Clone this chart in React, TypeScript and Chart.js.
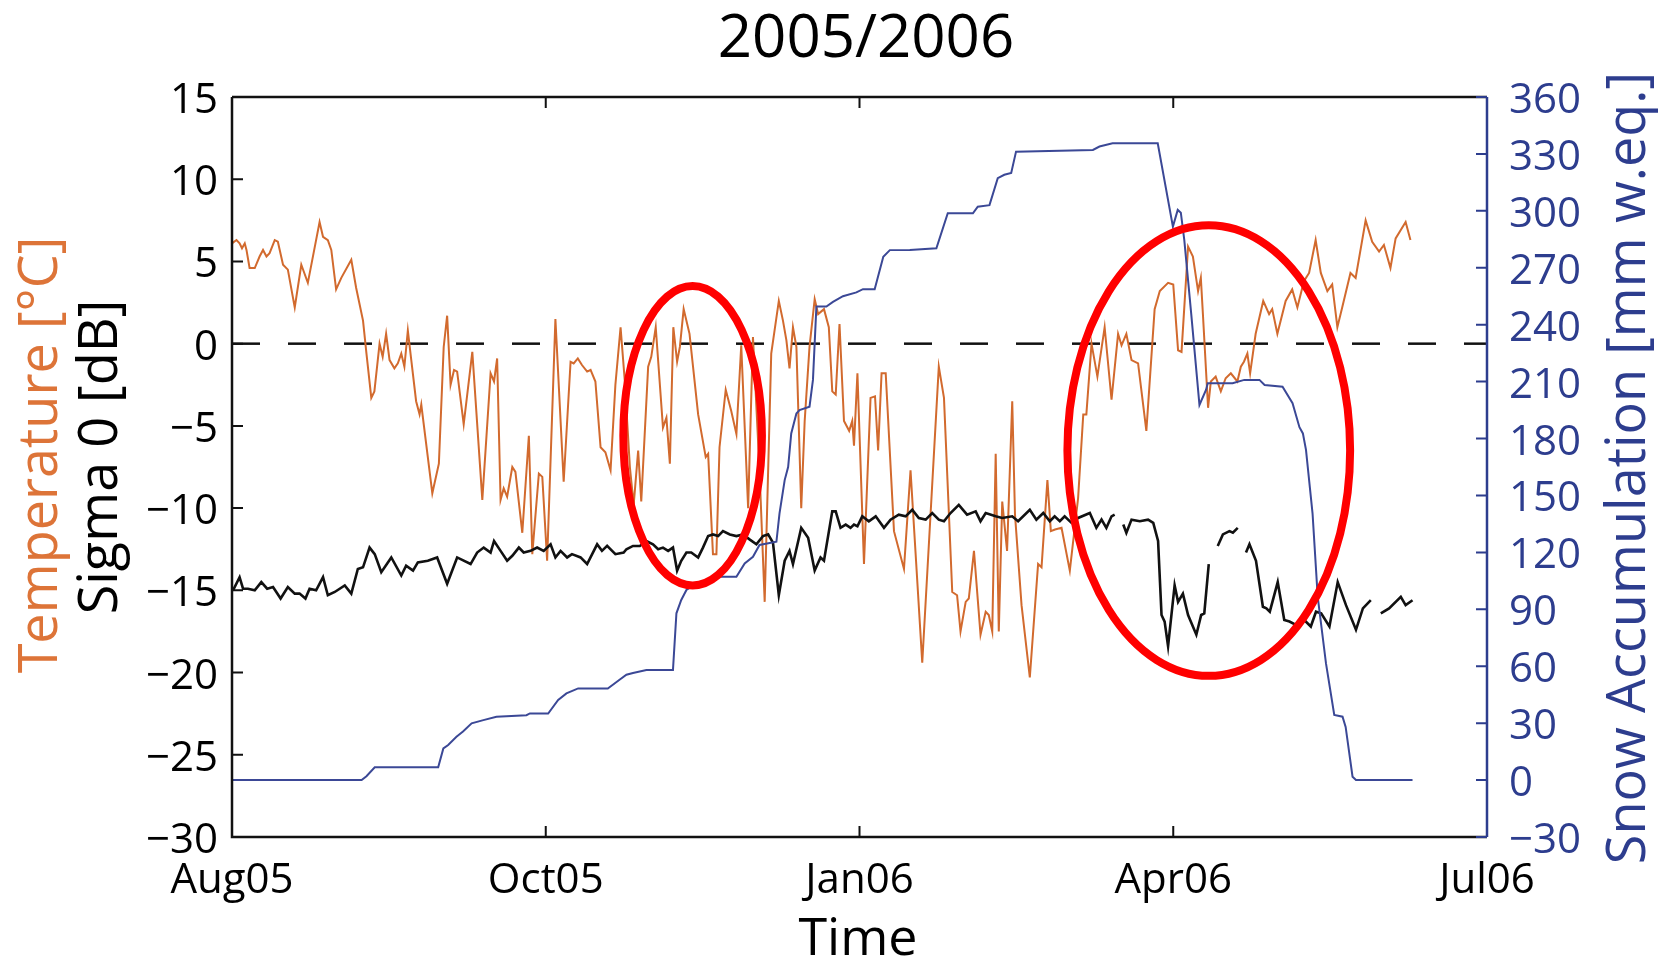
import React, { useEffect, useRef } from "react";
import { Chart, registerables } from "chart.js";

Chart.register(...registerables);

// ---------- data ----------
const chartTitle = "2005/2006";
const xTitle = "Time";
const tempTitle = "Temperature [°C]";
const sigmaTitle = "Sigma 0 [dB]";
const snowTitle = "Snow Accumulation [mm w.eq.]";

// x axis: days since start of Aug 2005 (axis spans four equal quarter steps)
const xTickDays = [0, 91, 182, 273, 364];
const xTickLabels = ["Aug05", "Oct05", "Jan06", "Apr06", "Jul06"];

const tempDays = [
  0, 1.3, 2.2, 2.9, 3.7, 4.2, 5.1, 6.6, 8.0, 9.0, 10.0, 10.9, 12.4, 13.3, 14.8, 16.2, 18.2, 20.1, 22.0, 25.4,
  26.4, 27.8, 28.8, 30.2, 31.7, 34.6, 36.0, 38.0, 39.0, 40.4, 41.3, 42.8, 43.7, 44.7, 45.7, 47.1, 48.1, 49.1, 50.0, 51.0,
  52.0, 53.4, 54.4, 54.9, 58.1, 60.0, 61.4, 62.4, 63.4, 64.4, 65.3, 67.2, 69.7, 72.6, 75.0, 76.0, 76.9, 77.9, 78.8, 79.8,
  81.3, 82.2, 84.2, 86.1, 87.1, 89.0, 90.0, 91.4, 93.8, 96.2, 98.2, 99.1, 100.3, 101.5, 103.0, 104.0, 105.4, 106.9, 108.3, 109.8,
  111.2, 112.7, 113.9, 115.4, 116.5, 117.8, 118.7, 120.7, 121.6, 122.9, 125.0, 126.0, 127.0, 128.0, 129.1, 129.9, 131.0, 132.7, 135.2, 137.4,
  138.1, 139.5, 140.5, 141.4, 143.2, 144.8, 146.3, 147.7, 149.7, 151.1, 153.0, 154.5, 156.4, 158.6, 159.8, 160.8, 161.7, 162.7, 163.7, 165.1,
  166.1, 167.5, 169.0, 170.0, 171.7, 173.1, 174.1, 175.1, 176.2, 177.5, 179.0, 179.9, 180.4, 181.4, 183.3, 185.2, 186.5, 187.4, 188.4, 189.6,
  192.0, 194.9, 196.8, 200.2, 202.6, 205.0, 206.5, 208.9, 210.3, 211.3, 212.8, 213.7, 215.2, 217.1, 218.6, 219.5, 220.5, 221.5, 222.4, 223.4,
  224.8, 226.3, 227.1, 229.0, 231.4, 233.8, 234.8, 236.5, 237.5, 238.7, 240.6, 243.0, 245.4, 246.9, 247.8, 249.3, 251.0, 253.1, 255.1, 257.0,
  258.0, 259.4, 260.9, 262.8, 265.2, 267.6, 269.1, 271.5, 273.0, 274.4, 275.4, 277.3, 278.7, 280.2, 281.0, 281.6, 283.1, 283.9, 285.3, 286.8,
  288.2, 289.7, 291.6, 292.6, 293.5, 294.5, 295.3, 296.9, 299.1, 300.8, 301.7, 303.2, 305.6, 307.5, 309.0, 310.9, 312.4, 314.3, 315.8, 317.7,
  319.1, 320.6, 322.0, 324.4, 325.9, 328.8, 330.7, 332.7, 334.1, 336.0, 337.5, 340.4, 341.8,
];
const tempValues = [
  6.1, 6.3, 6.1, 5.8, 6.1, 5.7, 4.6, 4.6, 5.3, 5.7, 5.3, 5.5, 6.3, 6.2, 4.8, 4.5, 2.2, 4.8, 3.7, 7.4,
  6.5, 6.3, 5.7, 3.3, 4.0, 5.1, 3.4, 1.4, -0.6, -3.3, -2.9, 0.0, -0.8, 0.6, -1.0, -1.5, -1.2, -0.6, -1.4, 0.8,
  -1.0, -3.5, -4.3, -3.7, -9.1, -7.3, -0.2, 1.7, -2.5, -1.6, -1.7, -4.9, -0.5, -9.5, -1.8, -2.3, -0.9, -9.5, -8.8, -9.3,
  -7.5, -7.8, -11.5, -5.6, -12.8, -7.9, -8.1, -13.2, 1.5, -8.4, -1.1, -1.2, -0.9, -1.3, -1.7, -1.6, -2.3, -6.3, -6.6, -7.7,
  -2.5, 1.0, -2.2, -7.5, -9.8, -6.5, -9.6, -1.4, -0.8, 1.0, -5.1, -4.5, -7.3, 1.0, -1.1, -0.2, 2.1, 0.6, -4.3, -6.9,
  -6.7, -12.8, -12.8, -6.3, -2.8, -4.1, -5.5, -0.1, -10.0, 0.4, -7.7, -15.7, -0.6, 2.6, 1.4, 0.2, -1.5, 1.0, -0.2, -10.0,
  -4.7, -0.2, 2.7, 1.8, 2.1, 1.0, -2.9, -3.1, 1.2, -4.7, -5.3, -4.7, -6.2, -1.8, -13.4, -3.3, -3.2, -6.5, -1.8, -1.8,
  -11.4, -13.7, -7.7, -19.4, -10.4, -1.4, -3.3, -15.1, -15.3, -17.5, -15.7, -15.5, -12.6, -17.7, -16.3, -16.5, -17.5, -6.7, -17.5, -9.6,
  -12.6, -3.5, -10.4, -15.9, -20.3, -13.4, -13.6, -8.3, -11.4, -11.3, -11.2, -13.8, -9.4, -4.3, -4.3, 0.0, -2.0, 1.0, -3.4, 0.6,
  -0.1, 0.6, -1.0, -1.2, -5.3, 2.1, 3.2, 3.7, 3.6, -0.4, -0.5, 5.9, 5.3, 3.2, 4.0, 1.8, -3.9, -2.3, -2.0, -2.9,
  -2.1, -1.8, -2.3, -1.4, -1.1, -0.6, -1.8, 0.6, 2.6, 1.8, 2.1, 0.6, 2.6, 3.3, 2.2, 3.8, 4.3, 6.3, 4.3, 3.2,
  3.6, 1.0, 2.2, 4.3, 4.0, 7.5, 6.2, 5.6, 6.0, 4.6, 6.4, 7.4, 6.3,
];

const sigmaDays = [
  0.3, 2.2, 3.2, 4.6, 6.6, 8.5, 10.2, 11.9, 14.1, 16.2, 18.2, 19.6, 21.3, 22.5, 24.4, 26.4, 27.8, 29.8, 32.7, 34.6,
  36.5, 38.0, 39.9, 41.4, 43.3, 46.2, 49.1, 50.5, 52.5, 53.9, 56.8, 59.5, 62.4, 65.3, 69.2, 71.1, 73.0, 75.0, 76.0, 77.9,
  79.8, 81.3, 83.2, 84.6, 86.6, 88.5, 90.4, 92.4, 93.8, 95.3, 97.2, 98.6, 101.1, 103.0, 105.9, 107.3, 108.8, 111.2, 113.6, 114.4,
  116.3, 118.3, 120.2, 122.1, 123.6, 125.0, 126.5, 127.9, 129.1, 130.3, 131.8, 133.2, 135.2, 136.6, 138.1, 139.5, 141.0, 142.4, 144.4, 146.3,
  148.2, 150.1, 152.1, 154.0, 155.5, 156.9, 158.6, 160.3, 161.7, 162.7, 165.1, 167.1, 169.0, 170.7, 171.7, 174.1, 175.1, 176.5, 178.0, 179.4,
  180.4, 181.4, 182.8, 184.7, 186.7, 189.1, 191.0, 193.4, 195.4, 197.3, 199.2, 201.2, 203.1, 205.0, 206.5, 208.4, 210.8, 213.2, 215.7, 217.1,
  218.6, 221.5, 223.4, 226.3, 228.0, 231.4, 233.3, 235.3, 237.2, 238.6, 240.1, 241.5, 243.5, 245.4, 248.8, 250.7, 252.2, 253.6, 255.1, 256.0,
  257.2, 258.5, 259.4, 260.9, 263.3, 265.7, 267.2, 268.6, 269.6, 270.5, 271.5, 273.4, 274.4, 275.8, 277.3, 279.7, 281.1, 282.0, 283.3, 284.6,
  285.9, 287.4, 289.3, 290.3, 291.7, 292.9, 294.1, 295.1, 297.0, 299.0, 300.0, 301.0, 303.3, 305.2, 306.7, 308.6, 310.5, 312.9, 314.4, 315.9,
  318.3, 320.7, 323.1, 326.0, 328.0, 330.3, 331.8, 333.2, 335.6, 339.0, 340.4, 342.4,
];
const sigmaValues: (number | null)[] = [
  -15.0, -14.2, -14.9, -14.9, -15.0, -14.5, -14.9, -14.8, -15.5, -14.8, -15.2, -15.2, -15.5, -14.9, -15.0, -14.2, -15.3, -15.1, -14.7, -15.2,
  -13.7, -13.6, -12.4, -12.8, -13.9, -13.0, -14.1, -13.5, -13.8, -13.3, -13.2, -13.0, -14.6, -13.0, -13.4, -12.7, -12.4, -12.7, -12.0, -12.6,
  -13.2, -12.9, -12.4, -12.7, -12.6, -12.4, -12.6, -12.2, -13.0, -12.6, -13.0, -12.8, -13.0, -13.4, -12.2, -12.6, -12.3, -12.8, -12.7, -12.5,
  -12.3, -12.3, -12.0, -12.2, -12.5, -12.4, -12.6, -12.4, -13.8, -13.2, -12.7, -12.7, -13.0, -12.4, -11.7, -11.6, -11.7, -11.4, -11.6, -11.7,
  -11.6, -11.9, -12.2, -11.7, -11.6, -12.1, -15.3, -13.2, -12.6, -13.4, -11.2, -11.8, -13.8, -13.0, -13.2, -10.2, -10.2, -11.2, -11.0, -11.2,
  -11.0, -11.1, -10.5, -10.8, -10.5, -11.2, -10.7, -10.4, -10.5, -10.1, -10.6, -10.7, -10.3, -10.7, -10.8, -10.3, -9.8, -10.4, -10.2, -10.8,
  -10.3, -10.5, -10.6, -10.5, -10.8, -10.1, -10.7, -10.3, -10.8, -10.5, -10.8, -10.5, -10.9, -10.6, -10.3, -11.2, -10.7, -11.2, -10.5, -10.4,
  null, -11.0, -11.5, -10.7, -10.8, -10.7, -10.9, -12.0, -16.5, -16.9, -18.4, -14.7, -15.7, -15.2, -16.5, -17.7, -16.5, -16.4, -13.4, null,
  -12.3, -11.6, -11.4, -11.5, -11.2, null, -12.7, -12.2, -13.2, -16.0, -16.1, -16.3, -14.5, -16.8, -16.9, -17.1, -16.7, -17.2, -16.3, -16.4,
  -17.2, -14.5, -15.9, -17.4, -16.1, -15.6, null, -16.4, -16.1, -15.4, -15.9, -15.6,
];

const snowDays = [
  0, 37.6, 39.0, 41.4, 59.8, 61.3, 62.7, 65.1, 67.0, 69.5, 72.9, 76.7, 85.4, 86.4, 91.7, 94.6, 97.0, 100.4, 109.0, 112.5,
  114.4, 116.3, 120.2, 127.9, 128.9, 130.3, 131.8, 135.0, 141.4, 146.3, 148.7, 151.1, 153.0, 157.9, 158.8, 160.3, 161.3, 162.2, 163.7, 164.6,
  167.5, 168.5, 169.5, 172.4, 174.3, 177.2, 181.1, 183.0, 186.4, 188.9, 190.8, 196.6, 204.3, 207.6, 214.9, 216.3, 219.7, 222.1, 224.0, 226.0,
  227.4, 249.7, 251.6, 255.4, 268.5, 272.9, 274.3, 275.2, 276.2, 278.2, 280.6, 282.5, 283.0, 290.2, 293.6, 298.0, 299.5, 304.7, 307.6, 309.6,
  310.6, 311.5, 313.4, 314.9, 317.3, 319.7, 322.1, 323.0, 325.0, 326.0, 342.4,
];
const snowValues = [
  0, 0, 2, 6.7, 6.7, 16.7, 18.5, 22.8, 25.6, 29.9, 31.6, 33.4, 34.2, 35.1, 35.1, 42.2, 45.7, 48.3, 48.3, 53,
  55.5, 56.4, 58, 58, 87.9, 94.9, 100.2, 104, 107.2, 107.2, 114.2, 117.7, 123.9, 125.6, 140.6, 158.1, 165, 182.7, 193.2, 195,
  196.8, 210.9, 249.6, 249.6, 252, 255, 257, 258.7, 258.7, 275.8, 279.3, 279.4, 280.3, 298.7, 298.7, 302.2, 303, 317.2, 319, 320,
  331.2, 332.1, 333.9, 335.6, 335.6, 291.7, 300.5, 299, 284.7, 246, 197.7, 205.6, 209.1, 209.1, 210.9, 210.9, 208.2, 207.3, 198.6, 186,
  182.7, 174, 140.6, 96.6, 61.5, 34.3, 33.4, 28, 1.8, 0, 0,
];

// dashed reference line at 0 °C / dB
const zeroLineDays = [0, 364];
const zeroLineValues = [0, 0];

// highlighted regions (centre day, centre value on left axis, half-width in days, half-height in left-axis units)
const ellipseCentersDay = [133.6, 283.3];
const ellipseCentersVal = [-5.6, -6.5];
const ellipseHalfWidthDays = [20.1, 41.0];
const ellipseHalfHeightVals = [9.1, 13.7];

// ---------- styles ----------
const FONT = '"Open Sans", "Noto Sans", sans-serif';
const ORANGE_LINE = "#d26a2e";
const ORANGE_TEXT = "#dd7438";
const BLUE_LINE = "#3b4896";
const BLUE_AXIS = "#2d3d8e";
const BLACK = "#111111";

const minus = (v: number) => (v < 0 ? "\u2212" + Math.abs(v) : String(v));

const pts = (xs: number[], ys: (number | null)[]) => xs.map((x, i) => ({ x, y: ys[i] }));

const framePlugin = {
  id: "frame",
  afterDatasetsDraw(chart: any) {
    const { ctx } = chart;
    const xs = chart.scales.x;
    const yl = chart.scales.y;
    ctx.save();
    ctx.strokeStyle = "#ff0000";
    ctx.lineWidth = 8;
    for (let i = 0; i < ellipseCentersDay.length; i++) {
      const cx = xs.getPixelForValue(ellipseCentersDay[i]);
      const cy = yl.getPixelForValue(ellipseCentersVal[i]);
      const rx = Math.abs(xs.getPixelForValue(ellipseCentersDay[i] + ellipseHalfWidthDays[i]) - cx);
      const ry = Math.abs(yl.getPixelForValue(ellipseCentersVal[i] + ellipseHalfHeightVals[i]) - cy);
      ctx.beginPath();
      ctx.ellipse(cx, cy, rx, ry, 0, 0, Math.PI * 2);
      ctx.stroke();
    }
    ctx.restore();
  },
  afterDraw(chart: any) {
    const { ctx, chartArea: a } = chart;
    const xs = chart.scales.x;
    const yl = chart.scales.y;
    const yr = chart.scales.y1;
    const TL = 11;
    ctx.save();
    ctx.lineCap = "butt";
    // box (left, bottom, top) in black
    ctx.strokeStyle = BLACK;
    ctx.lineWidth = 2.5;
    ctx.beginPath();
    ctx.moveTo(a.left, a.top);
    ctx.lineTo(a.left, a.bottom);
    ctx.lineTo(a.right, a.bottom);
    ctx.moveTo(a.left, a.top);
    ctx.lineTo(a.right, a.top);
    ctx.stroke();
    // ticks x (bottom and top, inward)
    ctx.lineWidth = 2;
    ctx.beginPath();
    xs.ticks.forEach((t: any) => {
      const px = xs.getPixelForValue(t.value);
      ctx.moveTo(px, a.bottom);
      ctx.lineTo(px, a.bottom - TL);
      ctx.moveTo(px, a.top);
      ctx.lineTo(px, a.top + TL);
    });
    // left ticks
    yl.ticks.forEach((t: any) => {
      const py = yl.getPixelForValue(t.value);
      ctx.moveTo(a.left, py);
      ctx.lineTo(a.left + TL, py);
    });
    ctx.stroke();
    // right axis in blue
    ctx.strokeStyle = BLUE_AXIS;
    ctx.lineWidth = 2.5;
    ctx.beginPath();
    ctx.moveTo(a.right, a.top);
    ctx.lineTo(a.right, a.bottom);
    ctx.stroke();
    ctx.lineWidth = 2;
    ctx.beginPath();
    yr.ticks.forEach((t: any) => {
      const py = yr.getPixelForValue(t.value);
      ctx.moveTo(a.right, py);
      ctx.lineTo(a.right - TL, py);
    });
    ctx.stroke();

    // titles
    ctx.textAlign = "center";
    ctx.textBaseline = "middle";
    ctx.fillStyle = "#000";
    ctx.font = `60px ${FONT}`;
    ctx.fillText(chartTitle, 866, 40);
    ctx.font = `52px ${FONT}`;
    ctx.fillText(xTitle, 858, 940);

    const vText = (text: string, x: number, y: number, color: string) => {
      ctx.save();
      ctx.translate(x, y);
      ctx.rotate(-Math.PI / 2);
      ctx.fillStyle = color;
      ctx.fillText(text, 0, 0);
      ctx.restore();
    };
    ctx.font = `54px ${FONT}`;
    vText(tempTitle, 42, 455, ORANGE_TEXT);
    vText(sigmaTitle, 102, 457, "#000");
    vText(snowTitle, 1630, 468, BLUE_AXIS);
    ctx.restore();
  },
};

export default function App() {
  const ref = useRef<HTMLCanvasElement | null>(null);
  useEffect(() => {
    const canvas = ref.current;
    if (!canvas) return;
    const chart = new Chart(canvas, {
      type: "line",
      data: {
        datasets: [
          {
            label: "Snow Accumulation",
            data: pts(snowDays, snowValues),
            yAxisID: "y1",
            borderColor: BLUE_LINE,
            borderWidth: 2,
            pointRadius: 0,
            tension: 0,
            order: 1,
          },
          {
            label: "Sigma 0",
            data: pts(sigmaDays, sigmaValues),
            yAxisID: "y",
            borderColor: BLACK,
            borderWidth: 2.6,
            pointRadius: 0,
            tension: 0,
            spanGaps: false,
            order: 2,
          },
          {
            label: "Temperature",
            data: pts(tempDays, tempValues),
            yAxisID: "y",
            borderColor: ORANGE_LINE,
            borderWidth: 2,
            pointRadius: 0,
            tension: 0,
            order: 3,
          },
          {
            label: "zero",
            data: pts(zeroLineDays, zeroLineValues),
            yAxisID: "y",
            borderColor: BLACK,
            borderWidth: 2.5,
            borderDash: [28, 28],
            pointRadius: 0,
            order: 4,
          },
        ],
      },
      options: {
        animation: false,
        responsive: true,
        maintainAspectRatio: false,
        layout: { padding: { top: 97, left: 0, right: 0, bottom: 0 } },
        plugins: { legend: { display: false }, tooltip: { enabled: false }, title: { display: false } },
        scales: {
          x: {
            type: "linear",
            min: 0,
            max: 364,
            afterBuildTicks: (s: any) => {
              s.ticks = xTickDays.map((v) => ({ value: v }));
            },
            afterFit: (s: any) => {
              s.height = 129;
            },
            grid: { display: false, drawTicks: false },
            border: { display: false },
            ticks: {
              autoSkip: false,
              maxRotation: 0,
              minRotation: 0,
              padding: 19,
              color: "#000",
              font: { family: FONT, size: 42 },
              callback: (v: any) => {
                const i = xTickDays.indexOf(Number(v));
                return i >= 0 ? xTickLabels[i] : "";
              },
            },
          },
          y: {
            type: "linear",
            position: "left",
            min: -30,
            max: 15,
            afterFit: (s: any) => {
              s.width = 232;
            },
            grid: { display: false, drawTicks: false },
            border: { display: false },
            ticks: {
              stepSize: 5,
              padding: 14,
              labelOffset: 4,
              color: "#000",
              font: { family: FONT, size: 42 },
              callback: (v: any) => minus(Number(v)),
            },
          },
          y1: {
            type: "linear",
            position: "right",
            min: -30,
            max: 360,
            afterFit: (s: any) => {
              s.width = 178;
            },
            grid: { display: false, drawTicks: false },
            border: { display: false },
            ticks: {
              stepSize: 30,
              padding: 22,
              labelOffset: 4,
              color: BLUE_AXIS,
              font: { family: FONT, size: 42 },
              callback: (v: any) => minus(Number(v)),
            },
          },
        },
      },
      plugins: [framePlugin],
    } as any);
    return () => chart.destroy();
  }, []);
  return (
    <div style={{ position: "fixed", left: 0, top: 0, width: 1665, height: 966, background: "#fff" }}>
      <canvas ref={ref} />
    </div>
  );
}
